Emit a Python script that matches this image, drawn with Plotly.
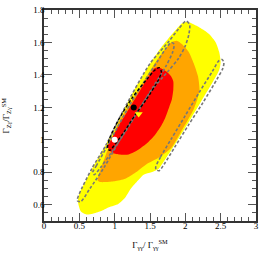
import plotly.graph_objects as go

# Filled confidence regions (boundary points)
yellow_x = [0.48,0.50,0.60,0.69,0.80,0.88,1.00,1.13,1.30,1.50,1.65,1.76,1.88,1.96,2.05,2.15,2.25,2.34,2.43,2.48,2.50,2.48,2.38,2.20,2.02,1.85,1.70,1.62,1.52,1.41,1.30,1.23,1.15,1.05,0.92,0.80,0.69,0.60,0.52]
yellow_y = [0.62,0.67,0.755,0.83,0.915,0.975,1.07,1.185,1.325,1.47,1.565,1.625,1.685,1.72,1.725,1.705,1.68,1.65,1.60,1.54,1.48,1.43,1.35,1.22,1.09,0.97,0.87,0.82,0.80,0.785,0.735,0.70,0.645,0.605,0.585,0.56,0.545,0.54,0.56]

orange_x = [0.76,0.80,0.86,0.92,1.06,1.34,1.55,1.70,1.80,1.88,1.95,2.05,2.12,2.18,2.20,2.17,2.12,2.06,1.94,1.80,1.62,1.45,1.30,1.15,1.00,0.88,0.80]
orange_y = [0.75,0.82,0.89,0.96,1.11,1.31,1.46,1.55,1.60,1.61,1.59,1.54,1.47,1.39,1.31,1.25,1.19,1.14,1.05,0.95,0.89,0.85,0.80,0.76,0.745,0.74,0.74]

red_x = [0.90,0.96,1.06,1.20,1.34,1.46,1.57,1.65,1.71,1.77,1.81,1.83,1.83,1.80,1.76,1.70,1.62,1.56,1.45,1.34,1.20,1.06,0.96]
red_y = [0.96,0.92,0.91,0.91,0.94,0.98,1.03,1.08,1.13,1.20,1.25,1.31,1.36,1.39,1.41,1.43,1.445,1.44,1.37,1.29,1.19,1.09,1.01]

# Dashed contour outlines
ellA_x = [0.47,0.50,0.68,0.88,1.13,1.50,1.76,1.90,2.01,2.06,2.05,2.00,1.90,1.75,1.55,1.30,1.06,0.85,0.65,0.52,0.47]
ellA_y = [0.625,0.668,0.825,0.97,1.187,1.47,1.603,1.681,1.732,1.71,1.65,1.58,1.50,1.42,1.32,1.16,0.99,0.83,0.70,0.62,0.625]

ellB_x = [0.69,0.74,0.88,1.03,1.22,1.42,1.60,1.72,1.80,1.84,1.82,1.72,1.55,1.35,1.15,0.95,0.80,0.71,0.69]
ellB_y = [0.80,0.84,0.95,1.07,1.22,1.36,1.48,1.56,1.60,1.59,1.54,1.45,1.33,1.19,1.05,0.92,0.83,0.785,0.80]

ellC_x = [1.58,1.65,1.80,2.00,2.20,2.38,2.47,2.52,2.545,2.53,2.45,2.25,2.05,1.85,1.70,1.63,1.59,1.58]
ellC_y = [0.83,0.895,1.005,1.15,1.295,1.42,1.485,1.495,1.475,1.44,1.375,1.23,1.095,0.955,0.85,0.81,0.815,0.83]

ellD_x = [0.90,0.93,1.05,1.25,1.45,1.57,1.63,1.66,1.62,1.45,1.30,1.15,1.00,0.93,0.90]
ellD_y = [0.95,1.01,1.12,1.26,1.37,1.43,1.445,1.42,1.37,1.25,1.16,1.06,0.97,0.935,0.95]

# Points
sm_pt = ([1.0], [1.0])
best_pt = ([1.27], [1.20])
tri_pt = ([1.34], [1.16])

x_title = "Γ<sub>γγ</sub>/ Γ<sub>γγ</sub><sup>SM</sup>"
y_title = "Γ<sub>Zγ</sub>/Γ<sub>Zγ</sub><sup>SM</sup>"

fig = go.Figure()
for xs, ys, col in [(yellow_x, yellow_y, "#FFFF00"), (orange_x, orange_y, "#FFA500"), (red_x, red_y, "#FF0000")]:
    fig.add_trace(go.Scatter(x=xs + xs[:1], y=ys + ys[:1], mode="lines", fill="toself",
                             fillcolor=col, line=dict(width=0, color=col, shape="spline", smoothing=0.6),
                             hoverinfo="skip"))
for xs, ys, col, w in [(ellA_x, ellA_y, "#777777", 1.6), (ellB_x, ellB_y, "#777777", 1.6),
                       (ellC_x, ellC_y, "#777777", 1.6), (ellD_x, ellD_y, "#000000", 1.4)]:
    fig.add_trace(go.Scatter(x=xs, y=ys, mode="lines",
                             line=dict(color=col, width=w, dash="3px,2px", shape="spline", smoothing=0.8),
                             hoverinfo="skip"))

fig.add_trace(go.Scatter(x=sm_pt[0], y=sm_pt[1], mode="markers",
                         marker=dict(symbol="circle", size=6, color="white")))
fig.add_trace(go.Scatter(x=best_pt[0], y=best_pt[1], mode="markers",
                         marker=dict(symbol="circle", size=6, color="black")))
fig.add_trace(go.Scatter(x=tri_pt[0], y=tri_pt[1], mode="markers",
                         marker=dict(symbol="triangle-down", size=7, color="#FFFF00")))

axis_common = dict(showline=True, linecolor="#333333", linewidth=1.5, mirror="allticks",
                   ticks="inside", ticklen=8, tickwidth=1, tickcolor="#555555",
                   showgrid=False, zeroline=False,
                   tickfont=dict(family="Liberation Serif", size=9, color="black"))

fig.update_xaxes(range=[0, 3], dtick=0.5, tick0=0,
                 minor=dict(dtick=0.1, ticks="inside", ticklen=4, tickcolor="#555555", showgrid=False),
                 title=dict(text=x_title,
                            font=dict(family="Liberation Serif", size=9, color="black"), standoff=12),
                 ticklabelstandoff=-5, **axis_common)
fig.update_yaxes(range=[0.5, 1.8], dtick=0.2, tick0=0,
                 minor=dict(dtick=0.05, ticks="inside", ticklen=4, tickcolor="#555555", showgrid=False),
                 ticklabelstandoff=-4, **axis_common)

fig.add_annotation(text=y_title, xref="paper", yref="paper", x=0, y=0.5,
                   xanchor="center", yanchor="middle", xshift=-38, textangle=-90, showarrow=False,
                   font=dict(family="Liberation Serif", size=9, color="black"))

fig.update_layout(width=264, height=255, margin=dict(l=44, r=5, t=5, b=34),
                  plot_bgcolor="white", paper_bgcolor="white", showlegend=False)

fig.write_html("out.html", config={"displayModeBar": False},
               post_script="document.body.style.margin='0';document.body.style.padding='0';")
